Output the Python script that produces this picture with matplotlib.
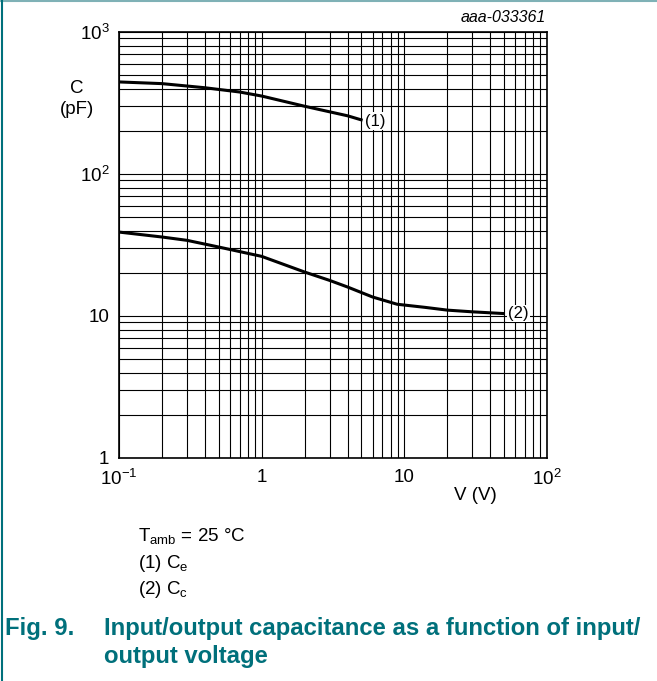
import numpy as np
import matplotlib
matplotlib.use("Agg")
import matplotlib.pyplot as plt
from matplotlib.lines import Line2D

plt.rcParams['font.family'] = ['Liberation Sans', 'DejaVu Sans']
plt.rcParams['mathtext.fontset'] = 'custom'
plt.rcParams['mathtext.rm'] = 'Liberation Sans'
plt.rcParams['mathtext.it'] = 'Liberation Sans:italic'

# curve (1) Ce
v_ce = [0.1, 0.2, 0.4, 0.7, 1, 2, 3, 4, 5.1]
c_ce = [445, 433, 405, 378, 354, 300, 274, 257, 239]
# curve (2) Cc
v_cc = [0.1, 0.2, 0.3, 0.5, 1, 2, 3, 4, 6, 8.9, 14, 20, 30, 50]
c_cc = [39.0, 36.0, 34.1, 30.6, 26.3, 20.4, 17.8, 16.0, 13.6, 12.1, 11.5, 11.0, 10.7, 10.4]

xticks = [0.1, 1, 10, 100]
xticklabels = ['$\\mathregular{10^{-1}}$', '1', '10', '$\\mathregular{10^{2}}$']
yticks = [1, 10, 100, 1000]
yticklabels = ['1', '10', '$\\mathregular{10^{2}}$', '$\\mathregular{10^{3}}$']

W, H = 657, 681
fig = plt.figure(figsize=(W / 100, H / 100), dpi=100)

def fx(px):
    return px / W

def fy(py):
    return 1 - py / H

ax = fig.add_axes([fx(119), fy(458), fx(547) - fx(119), fy(32) - fy(458)])
ax.set_xscale('log')
ax.set_yscale('log')
ax.set_xlim(0.1, 100)
ax.set_ylim(1, 1000)
ax.grid(which='both', color='black', lw=0.8)
ax.tick_params(which='both', length=0, labelsize=13.5)
ax.tick_params(axis='x', pad=8)
ax.tick_params(axis='y', pad=7)
ax.set_xticks(xticks)
ax.set_xticklabels(xticklabels)
ax.set_yticks(yticks)
ax.set_yticklabels(yticklabels)
ax.minorticks_on()
ax.tick_params(which='minor', labelleft=False, labelbottom=False)
for s in ax.spines.values():
    s.set_linewidth(1.2)

ax.plot(v_ce, c_ce, color='black', lw=2.2, solid_capstyle='butt')
ax.plot(v_cc, c_cc, color='black', lw=2.2, solid_capstyle='butt')

box = dict(facecolor='white', edgecolor='none', pad=1)
ax.text(6.3, 235, '(1)', fontsize=12, ha='center', va='center', bbox=box)
ax.text(63, 10.4, '(2)', fontsize=12, ha='center', va='center', bbox=box)

fig.text(fx(77), fy(99), 'C\n(pF)', fontsize=13.5, ha='center', va='center', linespacing=1.35)
fig.text(fx(475), fy(495), 'V (V)', fontsize=13.5, ha='center', va='center')
fig.text(fx(546), fy(18), 'aaa-033361', fontsize=11.5, style='italic', ha='right', va='center')

fig.text(fx(138), fy(536), 'T$_{\\mathregular{amb}}$ = 25 °C', fontsize=13.5, ha='left', va='center')
fig.text(fx(138), fy(563), '(1) C$_{\\mathregular{e}}$', fontsize=13.5, ha='left', va='center')
fig.text(fx(138), fy(590), '(2) C$_{\\mathregular{c}}$', fontsize=13.5, ha='left', va='center')

teal = '#00707b'
fig.text(fx(5), fy(629), 'Fig. 9.', fontsize=17.2, weight='bold', color=teal, ha='left', va='center')
fig.text(fx(104), fy(629), 'Input/output capacitance as a function of input/', fontsize=17.2,
         weight='bold', color=teal, ha='left', va='center')
fig.text(fx(104), fy(656), 'output voltage', fontsize=17.2, weight='bold', color=teal,
         ha='left', va='center')

# page frame
fig.add_artist(Line2D([0, 1], [fy(1), fy(1)], color='#7fb1b6', lw=1.5, transform=fig.transFigure))
fig.add_artist(Line2D([fx(1.5), fx(1.5)], [0, fy(1)], color=teal, lw=1.5, transform=fig.transFigure))

fig.savefig('out.png', dpi=100)
